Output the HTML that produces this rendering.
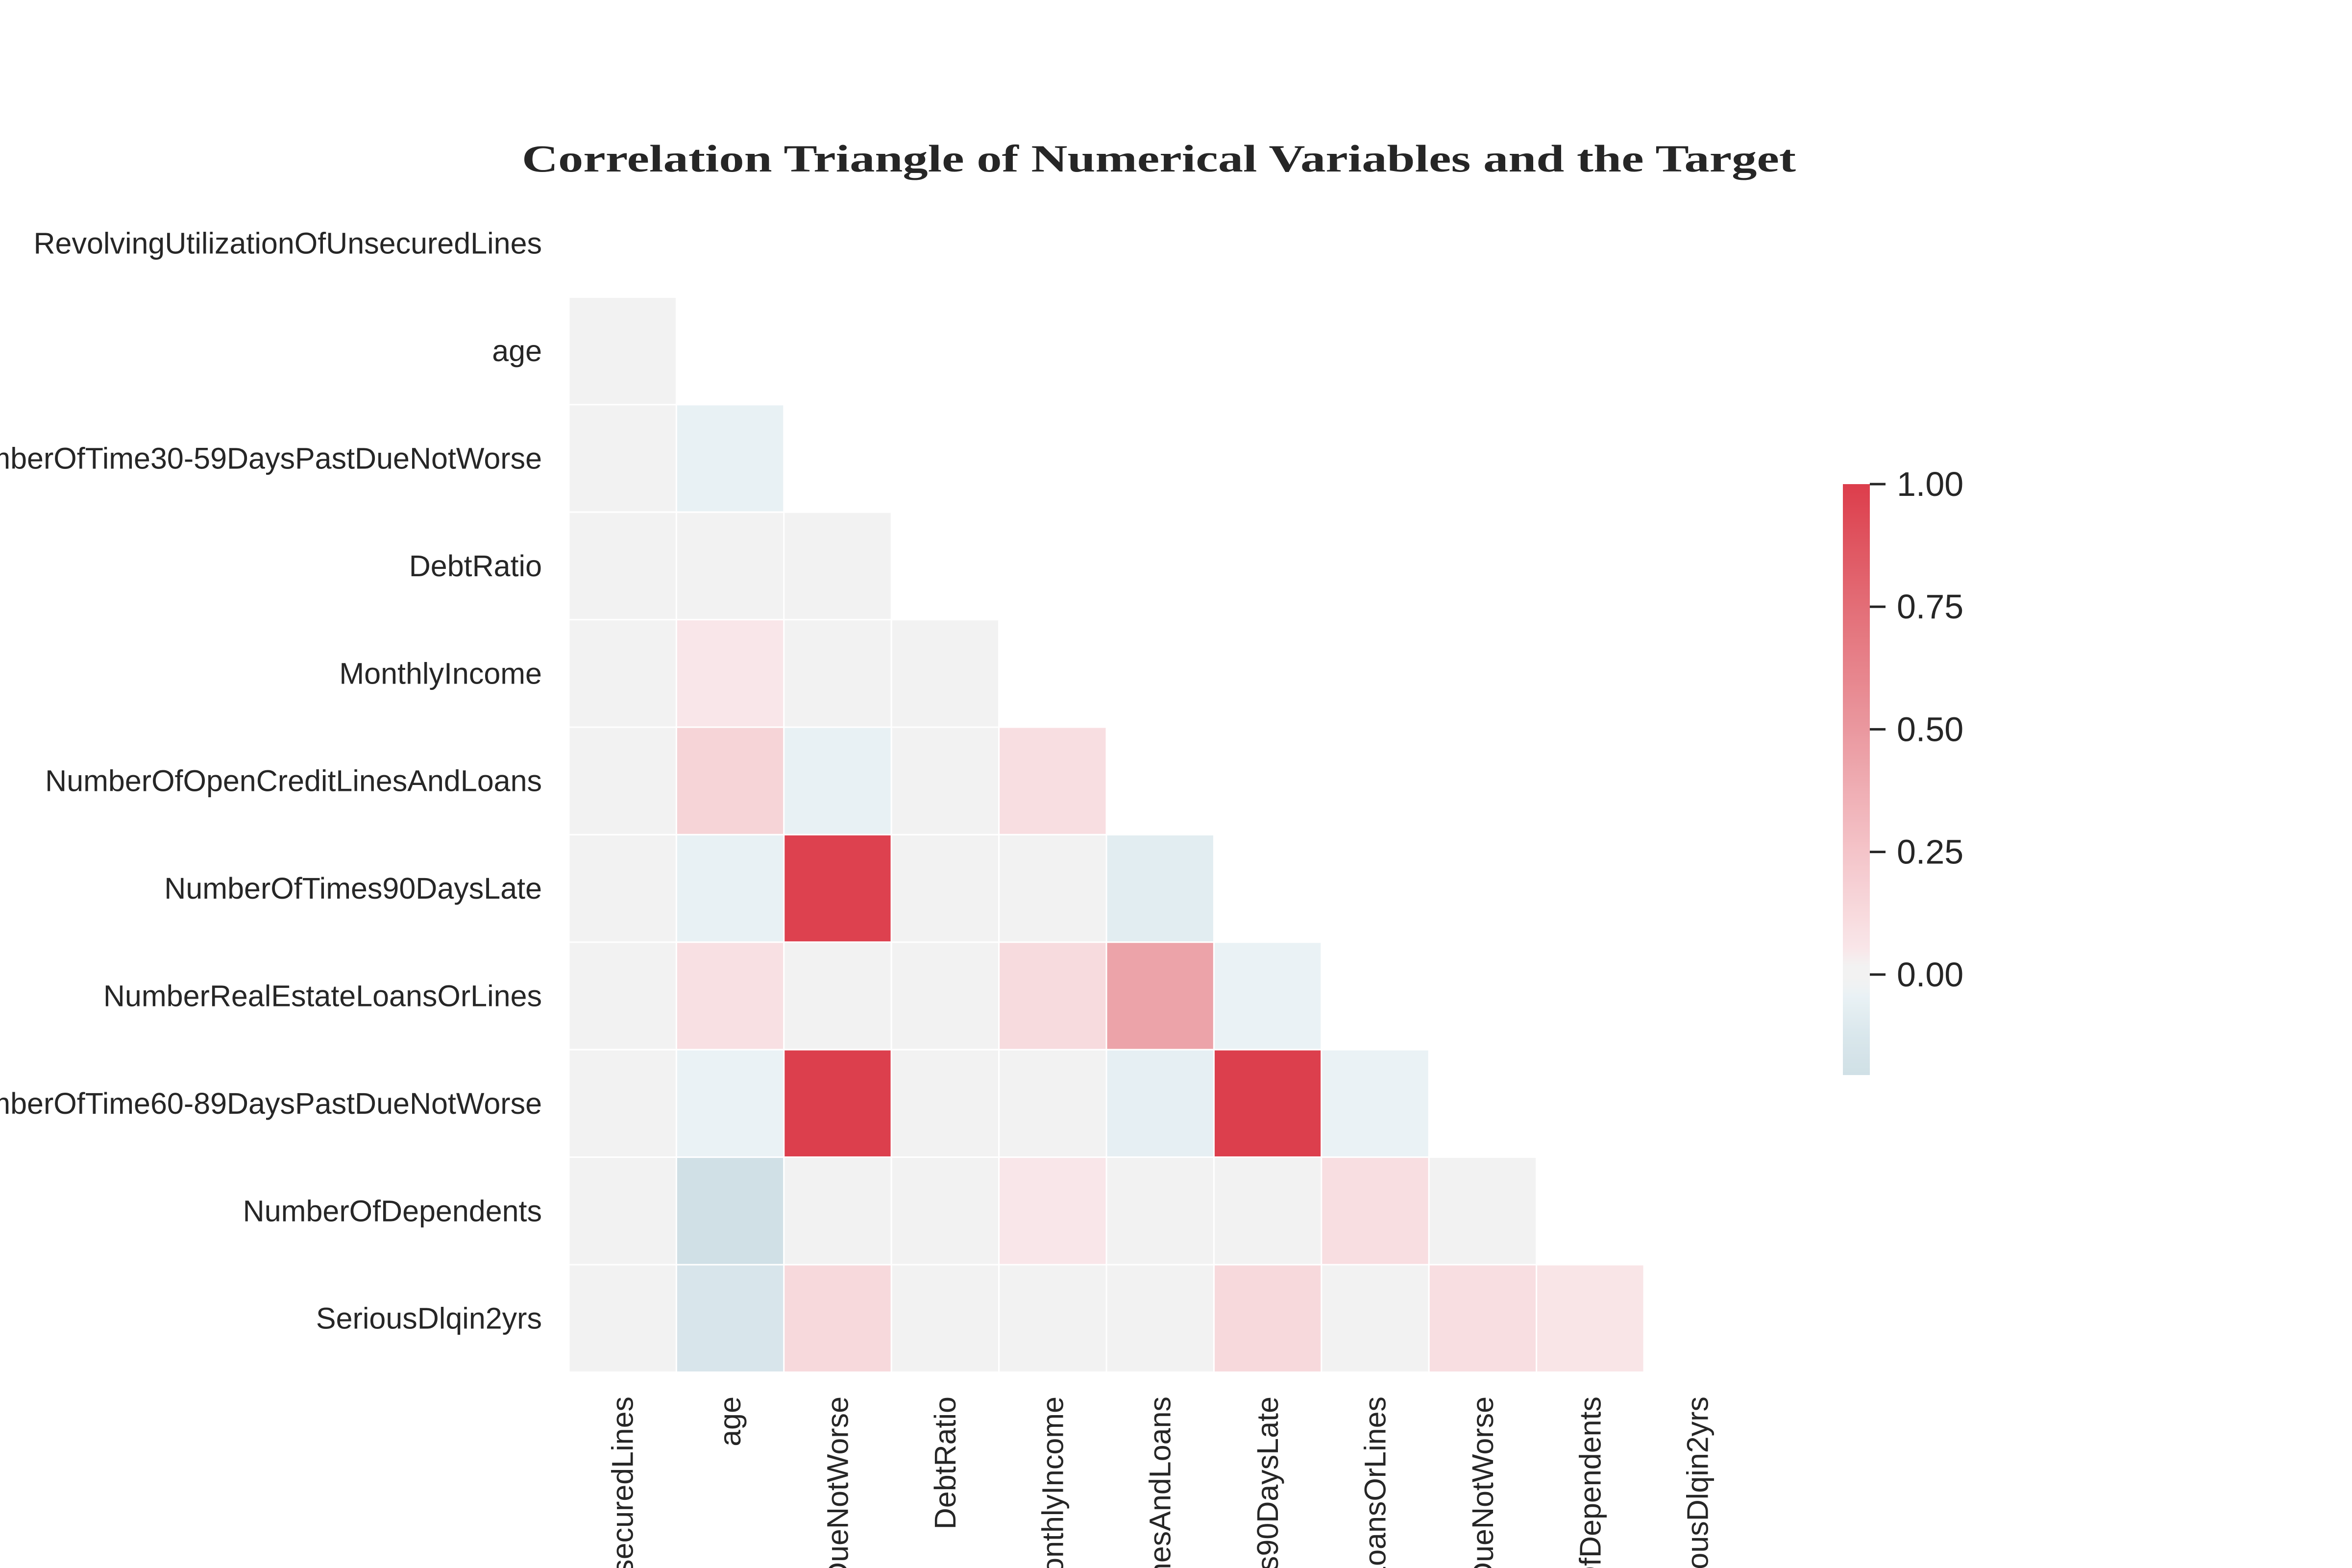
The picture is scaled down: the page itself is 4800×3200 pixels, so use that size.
<!DOCTYPE html>
<html><head><meta charset="utf-8"><style>
html,body{margin:0;padding:0;background:#fff;overflow:hidden;}
svg{display:block;}
text{font-family:"Liberation Sans",Arial,sans-serif;fill:#262626;}
</style></head><body>
<svg id="chart" width="4800" height="3200" viewBox="0 0 4800 3200">
<text x="2365" y="350" text-anchor="middle" style="font-family:'Liberation Serif',serif;font-weight:bold;font-size:78px" textLength="2600" lengthAdjust="spacingAndGlyphs">Correlation Triangle of Numerical Variables and the Target</text>
<defs><linearGradient id="cbg" x1="0" y1="1" x2="0" y2="0"></linearGradient></defs>
<g id="cells"></g>
<g id="ylabels"></g>
<g id="xlabels"></g>
<g id="cbar"></g>
</svg>
<script>
const variables = ["RevolvingUtilizationOfUnsecuredLines","age","NumberOfTime30-59DaysPastDueNotWorse","DebtRatio","MonthlyIncome","NumberOfOpenCreditLinesAndLoans","NumberOfTimes90DaysLate","NumberRealEstateLoansOrLines","NumberOfTime60-89DaysPastDueNotWorse","NumberOfDependents","SeriousDlqin2yrs"];
// lower triangle rows (row i has i values)
const corrRows = [
 [],
 [0.0],
 [0.0,-0.05],
 [0.0,0.0,0.0],
 [0.0,0.05,0.0,0.0],
 [0.0,0.16,-0.05,0.0,0.1],
 [0.0,-0.05,0.98,0.0,0.0,-0.08],
 [0.0,0.09,0.0,0.0,0.12,0.44,-0.04],
 [0.0,-0.04,0.99,0.0,0.0,-0.06,0.99,-0.04],
 [0.0,-0.21,0.0,0.0,0.05,0.0,0.0,0.1,0.0],
 [0.0,-0.14,0.13,0.0,0.0,0.0,0.13,0.0,0.1,0.06]
];
const cbTicks = [0.0,0.25,0.5,0.75,1.0];
const cbTickLabels = ["0.00","0.25","0.50","0.75","1.00"];
const vmin = -0.205, vmax = 1.0;

const stops=[[-0.205,[208,224,230]],[-0.12,[218,231,236]],[-0.04,[234,242,245]],[-0.015,[242,242,242]],[0.03,[242,242,242]],[0.04,[249,232,234]],[0.1,[248,222,225]],[0.25,[244,196,201]],[0.5,[234,152,159]],[0.75,[227,110,119]],[1.0,[220,61,75]]];
function color(v){
  if(v<=stops[0][0])return rgb(stops[0][1]);
  for(let i=1;i<stops.length;i++){if(v<=stops[i][0]){const a=stops[i-1],b=stops[i];const t=(v-a[0])/(b[0]-a[0]);return rgb(a[1].map((c,k)=>c+(b[1][k]-c)*t));}}
  return rgb(stops[stops.length-1][1]);
}
function rgb(c){return "rgb("+c.map(Math.round).join(",")+")";}
const NS="http://www.w3.org/2000/svg";
const X0=1161,Y0=387,CS=219.4;
const xPos=i=>X0+i*CS, yPos=i=>Y0+i*CS;
function mk(tag,attrs,parent){const e=document.createElementNS(NS,tag);for(const k in attrs)e.setAttribute(k,attrs[k]);parent.appendChild(e);return e;}
const cells=document.getElementById("cells");
corrRows.forEach((row,i)=>row.forEach((v,j)=>{
  const r=mk("rect",{x:xPos(j),y:yPos(i),width:CS,height:CS,fill:color(v),stroke:"#fff","stroke-width":3},cells);
  
  
}));
const yl=document.getElementById("ylabels"), xl=document.getElementById("xlabels");
variables.forEach((n,i)=>{
  const t=mk("text",{x:1106,y:yPos(i)+CS/2+21,"text-anchor":"end","font-size":61},yl);t.textContent=n;
  
  
  const cx=xPos(i)+CS/2+21;
  const u=mk("text",{x:0,y:0,"text-anchor":"end","font-size":61,transform:`translate(${cx},2850) rotate(-90)`},xl);u.textContent=n;
  
  
});
// colorbar
const CBX=3761,CBW=55,CBT=988,CBB=2194;
const cy=v=>CBB-(v-vmin)/(vmax-vmin)*(CBB-CBT);
const grad=document.getElementById("cbg");
for(let k=0;k<=60;k++){const v=vmin+(vmax-vmin)*k/60;mk("stop",{offset:(k/60),"stop-color":color(v)},grad);}
const cb=document.getElementById("cbar");
const bar=mk("rect",{x:CBX,y:CBT,width:CBW,height:CBB-CBT,fill:"url(#cbg)"},cb);


cbTicks.forEach((v,i)=>{
  const l=mk("line",{x1:CBX+CBW,x2:CBX+CBW+32,y1:cy(v),y2:cy(v),stroke:"#262626","stroke-width":5},cb);
  
  
  const t=mk("text",{x:3871,y:cy(v)+24,"font-size":70},cb);t.textContent=cbTickLabels[i];
  
  
});
</script>
</body></html>
